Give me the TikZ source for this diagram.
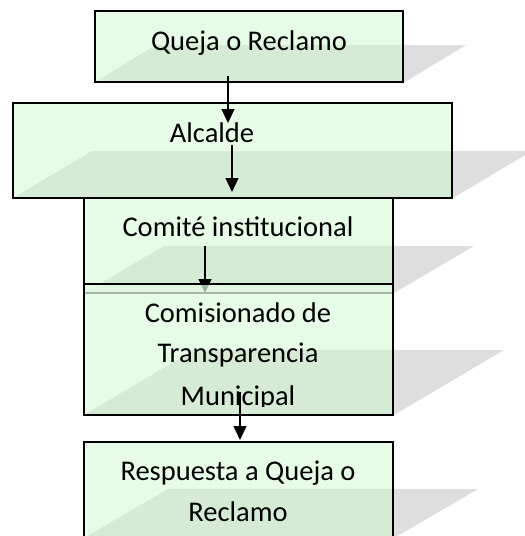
\documentclass[tikz,border=0pt]{standalone}
\usepackage{fontspec}
\setmainfont{Carlito}
\usetikzlibrary{arrows.meta}
\definecolor{boxfill}{HTML}{E6FCE6}
\definecolor{shadegrey}{HTML}{DEDEDE}
\definecolor{shadegreen}{HTML}{D5EBD5}
\tikzset{
  boxshape/.style={rectangle, fill=boxfill, inner sep=0pt, outer sep=0pt},
  border/.style={draw=black, line width=1.2pt},
  lbl/.style={anchor=base, inner sep=0pt, font=\fontsize{28.5}{40}\selectfont},
  flow/.style={draw=black, line width=1.1pt, -{Triangle[width=13pt,length=14pt]}},
}
\begin{document}
\begin{tikzpicture}[x=1pt,y=-1pt]
\useasboundingbox (0,0) rectangle (525,536);
% ---------- shadows (grey) ----------
\fill[shadegrey] (95,82) -- (405,82) -- (466,45) -- (156,45) -- cycle;
\fill[shadegrey] (13,198) -- (453,198) -- (532,151) -- (92,151) -- cycle;
\fill[shadegrey] (84,293) -- (394,293) -- (474,246) -- (164,246) -- cycle;
\fill[shadegrey] (84,415) -- (394,415) -- (504,350) -- (194,350) -- cycle;
\fill[shadegrey] (84,538) -- (394,538) -- (478,489) -- (168,489) -- cycle;

% ---------- box 1 ----------
\node[boxshape, minimum width=308pt, minimum height=71pt] (queja) at (249,46.5) {};
\begin{scope}\clip (queja.north west) rectangle (queja.south east);
\fill[shadegreen] (95,82) -- (405,82) -- (466,45) -- (156,45) -- cycle;\end{scope}
\draw[border] (queja.north west) rectangle (queja.south east);
\node[lbl] (tqueja) at (249,50) {Queja o Reclamo};

% ---------- box 2 ----------
\node[boxshape, minimum width=439pt, minimum height=95pt] (alcalde) at (232.5,150.5) {};
\begin{scope}\clip (alcalde.north west) rectangle (alcalde.south east);
\fill[shadegreen] (13,198) -- (453,198) -- (532,151) -- (92,151) -- cycle;\end{scope}
\draw[border] (alcalde.north west) rectangle (alcalde.south east);
\node[lbl] (talcalde) at (212,142) {Alcalde};

% ---------- box 3 ----------
\node[boxshape, minimum width=309pt, minimum height=95pt] (comite) at (238.5,245.5) {};
\begin{scope}\clip (comite.north west) rectangle (comite.south east);
\fill[shadegreen] (84,293) -- (394,293) -- (474,246) -- (164,246) -- cycle;\end{scope}
\draw[border] (comite.north west) rectangle (comite.south east);
\node[lbl] (tcomite) at (238,236) {Comité institucional};

% ---------- arrows 1-3 ----------
\coordinate (a1s) at (228,76);  \coordinate (a1e) at (228,123);
\coordinate (a2s) at (232,145); \coordinate (a2e) at (232,192);
\coordinate (a3s) at (205,246); \coordinate (a3e) at (205,293);
\draw[flow] (a1s) -- (a1e);
\draw[flow] (a2s) -- (a2e);
\draw[flow] (a3s) -- (a3e);

% ---------- box 4 ----------
\node[boxshape, fill=none, minimum width=309pt, minimum height=131pt] (comis) at (238.5,349.5) {};
\fill[boxfill, fill opacity=0.72] (comis.north west) rectangle (393,294.5);
\fill[boxfill] (84,294.5) rectangle (comis.south east);
\begin{scope}\clip (84,294.5) rectangle (comis.south east);
\fill[shadegreen] (84,415) -- (394,415) -- (504,350) -- (194,350) -- cycle;\end{scope}
\draw[border] (comis.north west) rectangle (comis.south east);
\node[lbl] (tcomis1) at (238,322) {Comisionado de};
\node[lbl] (tcomis2) at (238,362) {Transparencia};
\begin{scope}\clip (84,380) rectangle (393,406.5);
\node[lbl] (tcomis3) at (238,405) {Municipal};\end{scope}

% ---------- box 5 ----------
\node[boxshape, minimum width=309pt, minimum height=96pt] (resp) at (238.5,490) {};
\begin{scope}\clip (resp.north west) rectangle (resp.south east);
\fill[shadegreen] (84,538) -- (394,538) -- (478,489) -- (168,489) -- cycle;\end{scope}
\draw[border] (resp.north west) rectangle (resp.south east);
\node[lbl] (tresp1) at (238,480) {Respuesta a Queja o};
\node[lbl] (tresp2) at (238,521) {Reclamo};

% ---------- arrow 4 ----------
\coordinate (a4s) at (240,392); \coordinate (a4e) at (240,440);
\draw[flow] (a4s) -- (a4e);
\end{tikzpicture}
\end{document}
